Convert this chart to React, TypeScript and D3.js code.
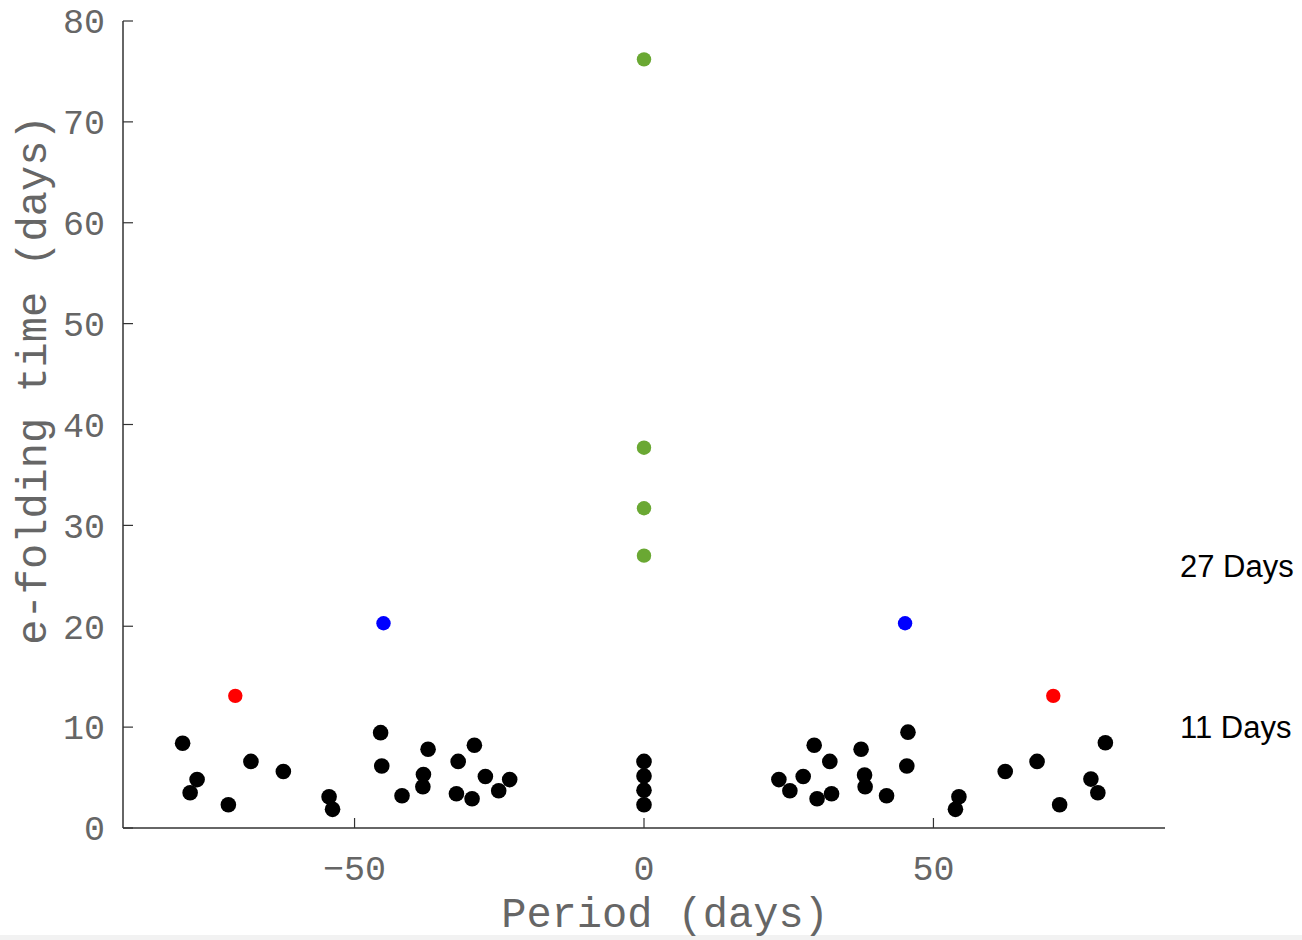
import * as d3 from 'd3';
import React, { useRef, useEffect } from 'react';

// period (days) / e-folding time (days)
const blackX = [-79.7, -77.2, -78.4, -71.8, -67.9, -62.3, -54.4, -53.8, -45.5, -45.3, -41.8, -37.3, -38.1, -38.2, -32.1, -32.4, -29.7, -29.3, -27.4, -25.1, -23.2,
  0, 0, 0, 0,
  23.3, 25.2, 27.5, 29.4, 29.9, 32.1, 32.4, 37.5, 38.1, 38.2, 41.9, 45.6, 45.4, 54.4, 53.8, 62.4, 67.9, 71.8, 77.2, 78.4, 79.7];
const blackY = [8.4, 4.8, 3.5, 2.3, 6.6, 5.6, 3.1, 1.85, 9.45, 6.15, 3.2, 7.8, 5.3, 4.1, 6.6, 3.4, 2.9, 8.2, 5.1, 3.7, 4.8,
  6.6, 5.15, 3.75, 2.3,
  4.8, 3.7, 5.1, 8.2, 2.9, 6.6, 3.4, 7.8, 5.25, 4.1, 3.2, 9.5, 6.15, 3.1, 1.85, 5.6, 6.6, 2.3, 4.85, 3.5, 8.45];
const redX = [-70.6, 70.7];
const redY = [13.1, 13.1];
const blueX = [-45.0, 45.1];
const blueY = [20.3, 20.3];
const greenX = [0, 0, 0, 0];
const greenY = [76.2, 37.7, 31.7, 27.0];

const xTicks = [-50, 0, 50];
const yTicks = [0, 10, 20, 30, 40, 50, 60, 70, 80];
const noteValues = [27, 11];
const noteLabels = ['27 Days', '11 Days'];

function App() {
    const ref = useRef<SVGSVGElement>(null);
    const width = 1302, height = 940;

    useEffect(() => {
        draw();
    }, []);

    const draw = () => {
        const svg = d3.select(ref.current);
        svg.selectAll("*").remove();

        var x = d3.scaleLinear().domain([-90, 90]).range([123, 1165]);
        var y = d3.scaleLinear().domain([0, 80]).range([828, 21]);

        svg.append("rect")
            .attr("x", 0).attr("y", 935).attr("width", width).attr("height", 5)
            .attr("fill", "#f2f2f2");

        var axisColor = "#333";
        var textColor = "#666";
        var tickFont = "'Liberation Mono', 'Courier New', monospace";

        // axes lines
        svg.append("line")
            .attr("x1", x(-90)).attr("x2", x(90))
            .attr("y1", y(0)).attr("y2", y(0))
            .attr("stroke", axisColor).attr("stroke-width", 1.5);
        svg.append("line")
            .attr("x1", x(-90)).attr("x2", x(-90))
            .attr("y1", y(0)).attr("y2", y(80))
            .attr("stroke", axisColor).attr("stroke-width", 1.5);

        // y ticks
        svg.selectAll(".ytick").data(yTicks).enter().append("line")
            .attr("x1", x(-90)).attr("x2", x(-90) + 10)
            .attr("y1", d => y(d)).attr("y2", d => y(d))
            .attr("stroke", axisColor).attr("stroke-width", 1.2);
        svg.selectAll(".ylab").data(yTicks).enter().append("text")
            .attr("x", 105).attr("y", d => y(d))
            .attr("dy", "0.35em")
            .style("text-anchor", "end")
            .style("font-family", tickFont)
            .style("font-size", "35px")
            .style("fill", textColor)
            .text(d => d);

        // x ticks
        svg.selectAll(".xtick").data(xTicks).enter().append("line")
            .attr("x1", d => x(d)).attr("x2", d => x(d))
            .attr("y1", y(0)).attr("y2", y(0) - 10)
            .attr("stroke", axisColor).attr("stroke-width", 1.2);
        svg.selectAll(".xlab").data(xTicks).enter().append("text")
            .attr("x", d => x(d)).attr("y", 880)
            .style("text-anchor", "middle")
            .style("font-family", tickFont)
            .style("font-size", "35px")
            .style("fill", textColor)
            .text(d => (d < 0 ? "\u2212" + Math.abs(d) : String(d)));

        // axis titles
        svg.append("text")
            .attr("x", 665).attr("y", 927)
            .style("text-anchor", "middle")
            .style("font-family", tickFont)
            .style("font-size", "42px")
            .style("fill", textColor)
            .text("Period (days)");
        svg.append("text")
            .attr("transform", "translate(46,380) rotate(-90)")
            .style("text-anchor", "middle")
            .style("font-family", tickFont)
            .style("font-size", "42px")
            .style("fill", textColor)
            .text("e-folding time (days)");

        // points
        const addDots = (xs: number[], ys: number[], color: string, r: number) => {
            svg.append("g").selectAll("circle")
                .data(xs.map((v, i) => [v, ys[i]]))
                .enter().append("circle")
                .attr("cx", d => x(d[0]))
                .attr("cy", d => y(d[1]))
                .attr("r", r)
                .style("fill", color);
        };
        addDots(blackX, blackY, "#000", 7.8);
        addDots(redX, redY, "#ff0000", 7.2);
        addDots(blueX, blueY, "#0000ff", 7.2);
        addDots(greenX, greenY, "#6aa833", 7.2);

        // notes on the right
        svg.selectAll(".note").data(noteValues).enter().append("text")
            .attr("x", 1180).attr("y", d => y(d) + 21)
            .style("font-family", "'Liberation Sans', Arial, sans-serif")
            .style("font-size", "31px")
            .style("fill", "#000")
            .text((d, i) => noteLabels[i]);
    };

    return (
        <div className="chart">
            <svg ref={ref} width={width} height={height}
                style={{ position: 'absolute', left: 0, top: 0, background: '#fff' }}>
            </svg>
        </div>
    );
}

export default App;
